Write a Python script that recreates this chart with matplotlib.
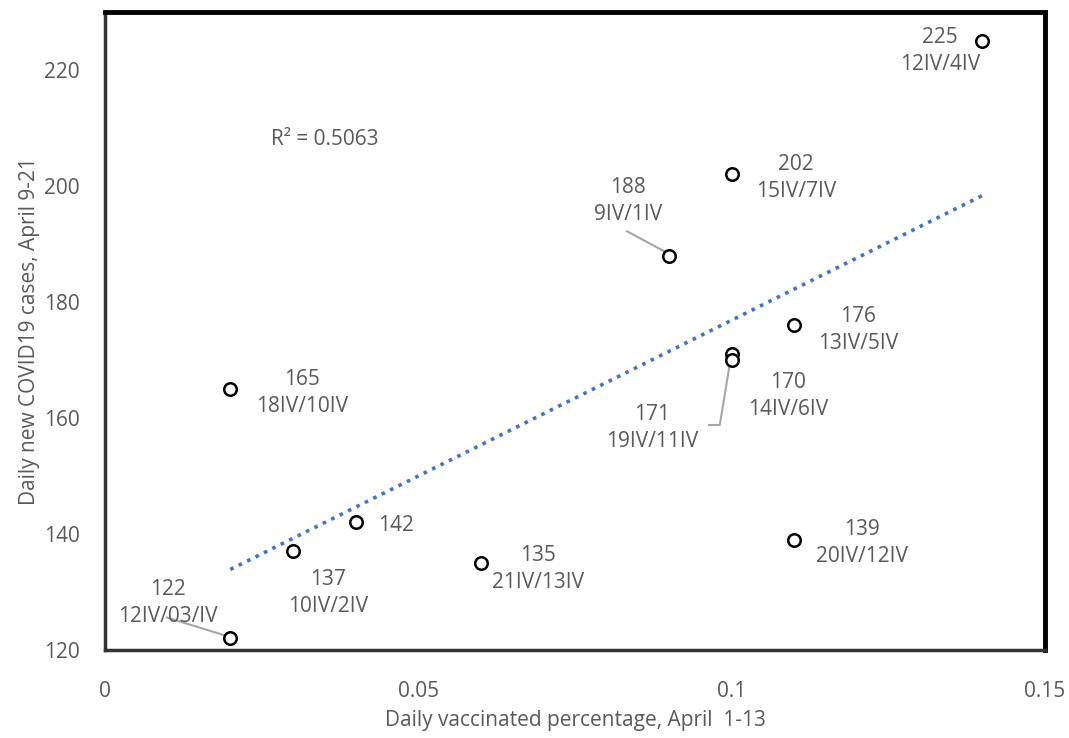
import numpy as np
from matplotlib import pyplot as plt

# data
vacc = [0.14, 0.10, 0.09, 0.11, 0.10, 0.10, 0.02, 0.04, 0.03, 0.06, 0.11, 0.02]
cases = [225, 202, 188, 176, 171, 170, 165, 142, 137, 135, 139, 122]
dates = ["12IV/4IV", "15IV/7IV", "9IV/1IV", "13IV/5IV", "19IV/11IV", "14IV/6IV",
         "18IV/10IV", "", "10IV/2IV", "21IV/13IV", "20IV/12IV", "12IV/03/IV"]
# where each label sits (data coords)
label_x = [0.1332, 0.1103, 0.0835, 0.1202, 0.0873, 0.1090, 0.0314, 0.0464, 0.0356, 0.0691, 0.1208, 0.0101]
label_y = [223.3, 201.4, 197.4, 175.2, 158.3, 163.8, 164.3, 141.4, 129.8, 134.0, 138.5, 128.1]

plt.rcParams['font.family'] = ['Open Sans', 'DejaVu Sans']
grey = "#595959"

fig = plt.figure(figsize=(10.69, 7.38), dpi=100)
ax = fig.add_axes([0.0982, 0.1192, 0.8794, 0.8645])

# trend line
k, b = np.polyfit(vacc, cases, 1)
tx = np.array([min(vacc), max(vacc)])
ax.plot(tx, k * tx + b, linestyle=(0, (1, 1.6)), color="#4472C4", linewidth=2.6, zorder=2)

ax.plot(vacc, cases, "o", mfc="white", mec="black", ms=9, mew=1.8, linestyle="none", zorder=4)

for i in range(len(cases)):
    txt = str(cases[i]) if dates[i] == "" else "{}\n{}".format(cases[i], dates[i])
    ax.text(label_x[i], label_y[i], txt, ha="center", va="center", fontsize=15,
            color=grey, linespacing=1.4, zorder=5)

# leader lines
lc = "#A6A6A6"
ax.plot([0.0833, 0.09], [192.2, 188.3], color=lc, lw=1.5, zorder=3)
ax.plot([0.0099, 0.0195], [125.6, 122.4], color=lc, lw=1.5, zorder=3)
ax.plot([0.0964, 0.0981, 0.0998], [158.8, 158.8, 170.0], color=lc, lw=1.5, zorder=3)

ax.text(0.035, 208.0, "R² = 0.5063", ha="center", va="center", fontsize=15, color=grey)

ax.set_xlim(0, 0.15)
ax.set_ylim(120, 230)
ax.set_xticks([0, 0.05, 0.1, 0.15])
ax.set_xticklabels(["0", "0.05", "0.1", "0.15"])
ax.set_yticks([120, 140, 160, 180, 200, 220])
ax.tick_params(length=0, labelsize=15, labelcolor=grey)
ax.tick_params(axis="x", pad=22)
ax.tick_params(axis="y", pad=18)

for s in ["top", "right"]:
    ax.spines[s].set_linewidth(3.5)
    ax.spines[s].set_color("black")
for s in ["left", "bottom"]:
    ax.spines[s].set_linewidth(2.5)
    ax.spines[s].set_color("#333333")

ax.set_xlabel("Daily vaccinated percentage, April  1-13", fontsize=15, color=grey, labelpad=6)
ax.set_ylabel("Daily new COVID19 cases, April 9-21", fontsize=15, color=grey, labelpad=3)

plt.savefig("out.png", dpi=100)
